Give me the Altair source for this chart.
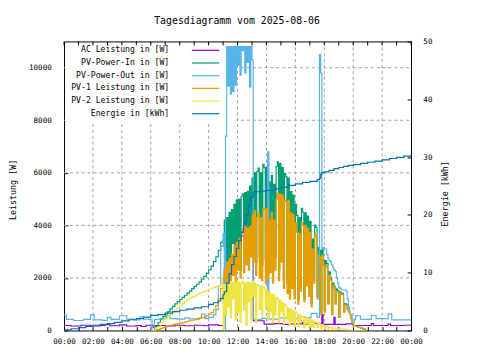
import altair as alt
import pandas as pd

# ---------------- data ----------------
# AC Leistung [W]
ac_time = ["00:00","00:30","01:10","01:50","02:30","02:50","03:10","03:50","04:20","05:00",
           "05:20","05:40","06:10","06:20","07:00","07:40","08:20","09:00","09:40","10:00",
           "10:40","11:05","11:30","11:50","12:15","13:05","13:50","14:30","15:10","15:40",
           "16:30","16:35","17:05","17:50","17:55","18:40","18:45","19:30","20:00","21:15",
           "21:25","22:25","22:35","23:30","24:00"]
ac_w = [190,170,200,170,190,220,180,210,170,190,
        150,200,120,190,170,200,180,200,180,210,
        190,2300,2800,3300,3600,370,240,260,230,250,
        300,230,260,600,230,500,230,250,190,260,
        190,240,190,200,200]

# PV-Power-Out [W]
pvout_time = ["00:00","00:10","00:40","01:20","01:50","02:05","02:40","03:00","03:15","03:50",
              "04:20","04:50","05:15","05:30","05:50","06:05","06:15","06:40","07:05","07:20",
              "07:50","08:20","08:40","09:20","09:30","09:45","10:00","10:20","10:30","10:40",
              "10:50","11:00","11:05","11:10","11:15","11:20","11:25","11:30","11:35","11:40",
              "11:45","11:50","11:55","12:00","12:05","12:10","12:15","12:20","12:25","12:30",
              "12:35","12:40","12:45","12:50","12:55","13:00","13:05","13:40","14:05","14:10",
              "14:50","15:30","16:10","16:40","17:05","17:30","17:40","17:45","17:50","17:55",
              "18:00","18:05","18:10","18:15","18:20","18:25","18:30","18:35","18:40","18:45",
              "18:50","18:55","19:00","19:05","19:10","19:30","19:35","19:40","19:45","19:55",
              "20:05","20:10","20:30","21:15","21:35","22:25","22:40","24:00"]
pvout_w = [590,420,380,420,600,400,380,500,420,560,
           430,400,520,430,420,0,420,450,560,450,
           430,480,440,470,620,450,500,600,800,1700,
           3200,3700,0,7400,10800,9300,10800,9000,10800,9100,
           10800,9340,10800,10090,10800,9720,10800,10650,10800,9800,
           10800,10200,10800,9270,10800,10300,420,460,6800,430,
           480,450,520,480,650,500,10500,9800,3100,3150,
           3100,3100,2900,2750,2650,2610,2500,2400,2300,2240,
           2000,1800,1650,1600,1540,1500,1200,900,610,300,
           420,560,420,570,450,630,400,400]

# morning ramp (10-minute readings, 06:00 .. 10:50)
morning_time = ["06:00","06:10","06:20","06:30","06:40","06:50",
                "07:00","07:10","07:20","07:30","07:40","07:50",
                "08:00","08:10","08:20","08:30","08:40","08:50",
                "09:00","09:10","09:20","09:30","09:40","09:50",
                "10:00","10:10","10:20","10:30","10:40","10:50"]
pvin_morning = [0,0,150,300,420,530, 620,720,820,920,1010,1100,
                1180,1260,1340,1420,1500,1590, 1680,1760,1850,1950,2060,2180,
                2310,2450,2620,2800,3050,3350]
pv1_morning = [0,0,20,40,80,110, 140,170,200,220,240,260,
               280,300,320,350,370,390, 410,430,460,490,520,560,
               610,680,780,950,1200,1600]
pv2_morning = [0,0,100,150,300,400, 450,540,620,700,780,860,
               940,1020,1100,1170,1230,1280, 1320,1370,1410,1450,1490,1530,
               1570,1610,1640,1670,1700,1740]

# midday (5-minute readings, 11:00 .. 20:00)
midday_start = "11:00"
pv1_midday = [2000,2350,1500,2600,1700,2750,1900,2900,2100,3200,
              1800,3350,2300,3500,2000,3700,3900,2200,3950,2500,
              3900,2300,3970,2800,4400,2600,4550,2100,4300,4480,
              2000,4300,1900,4670,4600,1800,4650,2000,4200,2200,
              4500,1800,4200,2300,5000,5220,1900,5200,2600,5150,
              1600,4970,4900,1400,4950,1200,4490,1600,4400,1200,
              4100,3730,1000,3700,1500,4100,4000,1100,4000,1700,
              3900,1300,3730,900,3100,1800,3660,3600,1200,2850,
              2800,600,2850,2480,700,2480,2400,1000,2100,1900,
              600,1700,1600,1000,1500,1450,500,1400,1360,1360,
              700,980,960,800,700,600,450,300,180]
pv2_midday = [0,1750,600,1800,900,1850,500,1850,1200,1800,
              400,1870,700,1850,300,1800,1870,800,1800,200,
              1850,1100,1800,400,1870,1300,1800,300,1750,1700,
              800,1700,500,1650,1600,900,1550,400,1450,700,
              1400,300,1360,600,1250,1200,300,1150,700,1050,
              250,1000,950,400,850,200,800,350,750,150,
              700,650,150,600,300,550,500,100,480,250,
              450,100,420,150,380,100,350,320,100,300,
              250,60,220,200,50,180,150,40,130,120,
              30,100,90,30,80,70,20,60,50,50,
              20,40,30,20,20,10,10,0,0]
pvin_midday = [3450,4200,2100,4300,2600,4500,2400,4600,3300,4800,
               2200,4970,3000,5000,2300,5100,5200,3000,5250,2700,
               5300,3400,5500,3200,5800,3900,6000,2600,6050,6180,
               2800,6000,2500,6320,6200,2700,6200,2500,5650,2900,
               5900,2200,5560,2800,6250,6420,2300,6350,3300,6200,
               1900,5970,5850,1800,5800,1400,5290,1950,5150,1350,
               4800,4380,1150,4300,1800,4650,4500,1200,4480,1950,
               4350,1400,4150,1050,3480,1900,4010,3920,1300,3150,
               3050,660,3070,2680,750,2660,2550,1040,2230,2020,
               630,1800,1690,1030,1580,1520,520,1460,1410,1410,
               720,1020,990,820,720,610,460,300,200]

# evening tail
tail_time = ["20:10","20:20","20:30","20:40","20:50"]
pvin_tail = [160,120,90,60,0]
pv1_tail = [150,120,90,60,0]
pv2_tail = [0,0,0,0,0]

# Energie [kWh]
energy_time = ["00:00","00:30","01:00","01:30","02:00","02:30","03:00","03:30","04:00","04:30",
               "05:00","05:30","06:00","06:30","07:00","07:30","08:00","08:30","09:00","09:30",
               "10:00","10:20","10:40","10:50","11:00","11:05","11:15","11:25","11:35","11:45",
               "11:55","12:05","12:15","12:25","12:35","12:45","12:55","13:05","13:30","14:00",
               "14:30","15:00","15:30","16:00","16:30","17:00","17:30","17:40","17:45","17:50",
               "18:00","18:20","18:40","19:00","19:20","19:40","20:00","20:30","21:00","21:30",
               "22:00","22:30","23:00","23:30","24:00"]
energy_kwh = [0.1,0.3,0.5,0.7,0.9,1.05,1.2,1.4,1.65,1.85,
              2.05,2.3,2.6,2.75,3.0,3.25,3.5,3.7,3.9,4.1,
              4.5,4.8,5.1,5.5,6.2,6.7,8.2,9.8,11.4,12.8,
              14.2,15.6,17.0,18.5,20.0,21.6,23.1,24.0,24.1,24.25,
              24.5,24.8,25.1,25.35,25.6,25.8,26.1,26.3,27.0,27.3,
              27.45,27.7,28.0,28.2,28.4,28.55,28.7,28.9,29.1,29.3,
              29.5,29.75,29.95,30.15,30.4]

series_names = ["AC Leistung in [W]", "PV-Power-In in [W]", "PV-Power-Out in [W]",
                "PV-1 Leistung in [W]", "PV-2 Leistung in [W]", "Energie in [kWh]"]
series_colors = ["#9400d3", "#009e73", "#56b4e9", "#e69f00", "#f0e442", "#0072b2"]

hour_ticks = list(range(0, 25))
grid_hours = [2, 4, 6, 8, 10, 12, 14, 16, 18, 20, 22]
power_ticks = [0, 2000, 4000, 6000, 8000, 10000]
power_grid = [2000, 4000, 6000, 8000, 10000]
energy_ticks = [0, 10, 20, 30, 40, 50]

title_text = "Tagesdiagramm vom 2025-08-06"
left_title = "Leistung [W]"
right_title = "Energie [kWh]"

# ---------------- helpers ----------------
def to_h(ts):
    h, m = ts.split(":")
    return int(h) + int(m) / 60.0

sh = to_h(midday_start)
midday_h = [sh + 5 * i / 60.0 for i in range(len(pv1_midday))]

def frame(times_h, vals):
    return pd.DataFrame({"h": times_h, "v": vals})

m_h = [to_h(t) for t in morning_time]
t_h = [to_h(t) for t in tail_time]

df_ac = frame([to_h(t) for t in ac_time], ac_w)
df_out = frame([to_h(t) for t in pvout_time], pvout_w)
df_in = frame(m_h + midday_h + t_h, pvin_morning + pvin_midday + pvin_tail)
df_p1 = frame(m_h + midday_h + t_h, pv1_morning + pv1_midday + pv1_tail)
df_p2 = frame(m_h + midday_h + t_h, pv2_morning + pv2_midday + pv2_tail)
df_en = frame([to_h(t) for t in energy_time], energy_kwh)

W, H = 353, 294
FONT = "DejaVu Sans Mono"
xs = alt.Scale(domain=[0, 24], nice=False, zero=False)
ys = alt.Scale(domain=[0, 11000], nice=False)
ye = alt.Scale(domain=[0, 50], nice=False)

x_axis = alt.Axis(
    values=hour_ticks, offset=-4, tickSize=4, domain=False, grid=False,
    title=None, labelFont=FONT, labelFontSize=7.7, labelPadding=7,
    labelOverlap=False, labelFlush=False,
    tickColor="black", labelColor="black",
    labelExpr="datum.value % 2 == 0 ? ((datum.value % 24) < 10 ? '0' : '') + (datum.value % 24) + ':00' : ''")
y_axis = alt.Axis(
    values=power_ticks, format="d", offset=-4, tickSize=4, domain=False,
    grid=False, title=None, labelFont=FONT, labelFontSize=7.7,
    labelPadding=13, tickColor="black", labelColor="black")
e_axis = alt.Axis(
    orient="right", values=energy_ticks, offset=-4, tickSize=4, domain=False,
    grid=False, title=None, labelFont=FONT, labelFontSize=7.7,
    labelPadding=12, tickColor="black", labelColor="black")

def X(field="h:Q"):
    return alt.X(field, scale=xs, axis=x_axis)

def Y(field="v:Q"):
    return alt.Y(field, scale=ys, axis=y_axis)

def line(df, color):
    return alt.Chart(df).mark_line(interpolate="step-after", color=color,
                                   strokeWidth=1.2, clip=True).encode(x=X(), y=Y())

grid_color = "#a0a0a0"
hgrid = alt.Chart(pd.DataFrame({"v": power_grid})).mark_rule(
    color=grid_color, strokeDash=[3, 3], strokeWidth=1).encode(
    y=Y(), x=alt.value(0), x2=alt.value(W))

vgrid = alt.Chart(pd.DataFrame({"h": grid_hours})).mark_rule(
    color=grid_color, strokeDash=[3, 3], strokeWidth=1).encode(
    x=X(), y=alt.value(0), y2=alt.value(H))

top_ticks = alt.Chart(pd.DataFrame({"h": hour_ticks})).mark_rule(
    color="black", strokeWidth=1).encode(
    x=X(), y=alt.value(0), y2=alt.value(4))

# opaque key background (hides the grid behind the legend, like gnuplot)
key_box = alt.Chart(pd.DataFrame({"k": [0]})).mark_rect(
    color="white", strokeWidth=0).encode(
    x=alt.value(1), x2=alt.value(175), y=alt.value(5), y2=alt.value(81.5))

def txt(text, x, y, size=8.3, align="center", angle=0):
    return alt.Chart(pd.DataFrame({"t": [text]})).mark_text(
        font=FONT, fontSize=size, align=align, baseline="middle",
        angle=angle, color="black").encode(
        text="t:N", x=alt.value(x), y=alt.value(y))

legend_layers = []
for k, (name, col) in enumerate(zip(series_names, series_colors)):
    yy = 9 + k * 12.9
    legend_layers.append(txt(name, 107, yy, size=8.3, align="right"))
    legend_layers.append(alt.Chart(pd.DataFrame({"c": [col]})).mark_rule(
        color=col, strokeWidth=1.2).encode(
        x=alt.value(130), x2=alt.value(158), y=alt.value(yy)))

power = alt.layer(
    hgrid, vgrid, top_ticks, key_box,
    *legend_layers,
    line(df_ac, series_colors[0]),
    line(df_in, series_colors[1]),
    line(df_out, series_colors[2]),
    line(df_p1, series_colors[3]),
    line(df_p2, series_colors[4]),
    txt(title_text, 176, -21, size=10),
    txt(left_title, -52, 151, size=8.5, angle=270),
    txt(right_title, 388, 155, size=8.5, angle=270),
)

energy = alt.Chart(df_en).mark_line(
    interpolate="step-after", color=series_colors[5], strokeWidth=1.2, clip=True).encode(
    x=X(),
    y=alt.Y("v:Q", scale=ye, axis=e_axis))

chart = alt.layer(power, energy).resolve_scale(y="independent").properties(
    width=W, height=H,
    autosize=alt.AutoSizeParams(type="none"),
    padding={"left": 57, "top": 31, "right": 62, "bottom": 27},
    background="white",
).configure_view(stroke="black", strokeWidth=1)

chart.save("out.html", embed_options={"renderer": "svg", "actions": False})
